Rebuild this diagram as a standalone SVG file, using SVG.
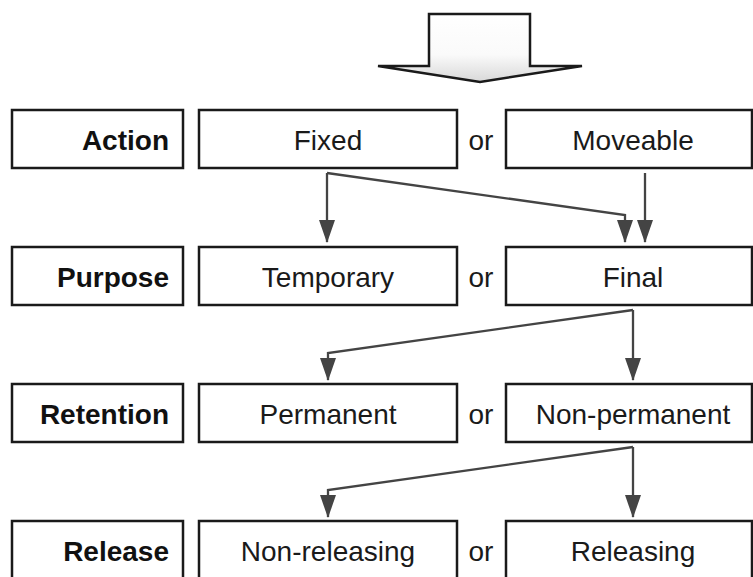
<svg xmlns="http://www.w3.org/2000/svg" width="753" height="577" viewBox="0 0 753 577">
<defs>
<style>
.box{fill:#fff;stroke:#1a1a1a;stroke-width:2.5}
.lbl{font-family:"Liberation Sans",Arial,sans-serif;font-size:28px;font-weight:bold;fill:#111;text-anchor:end}
.txt{font-family:"Liberation Sans",Arial,sans-serif;font-size:28px;fill:#1a1a1a;text-anchor:middle}
.or{font-family:"Liberation Sans",Arial,sans-serif;font-size:28px;fill:#1a1a1a;text-anchor:middle}
.con{fill:none;stroke:#444;stroke-width:2.3}
</style>
<marker id="ah" viewBox="0 0 23 16" refX="22" refY="8" markerWidth="23" markerHeight="16" markerUnits="userSpaceOnUse" orient="auto">
<path d="M0,0 L23,8 L0,16 Z" fill="#444"/>
</marker>
<linearGradient id="g" x1="0" y1="0" x2="0" y2="1">
<stop offset="0" stop-color="#fff"/>
<stop offset="0.6" stop-color="#fafafa"/>
<stop offset="1" stop-color="#d8d8d8"/>
</linearGradient>
</defs>
<rect width="753" height="577" fill="#fff"/>

<g id="input-arrow">
<path d="M429,14 L530,14 L530,66 L582,66 L480,82 L378,66 L429,66 Z" fill="url(#g)" stroke="#1a1a1a" stroke-width="2.5" stroke-linejoin="miter"/>
</g>

<g id="connectors">
<path class="con" d="M645,173 L645,242" marker-end="url(#ah)"/>
<path class="con" d="M327,173 L327,242" marker-end="url(#ah)"/>
<path class="con" d="M327,173 L625,215 L625,242" marker-end="url(#ah)"/>
<path class="con" d="M633,310 L328,353 L328,380" marker-end="url(#ah)"/>
<path class="con" d="M633,310 L633,380" marker-end="url(#ah)"/>
<path class="con" d="M633,447 L328,490 L328,517" marker-end="url(#ah)"/>
<path class="con" d="M633,447 L633,517" marker-end="url(#ah)"/>
</g>

<g id="label-action"><rect class="box" x="12" y="110" width="171" height="58"/><text class="lbl" x="169" y="150">Action</text></g>
<g id="fixed"><rect class="box" x="199" y="110" width="258" height="58"/><text class="txt" x="328" y="150">Fixed</text></g>
<text class="or" x="481" y="150">or</text>
<g id="moveable"><rect class="box" x="506" y="110" width="246" height="58"/><text class="txt" x="633" y="150">Moveable</text></g>

<g id="label-purpose"><rect class="box" x="12" y="247" width="171" height="58"/><text class="lbl" x="169" y="287">Purpose</text></g>
<g id="temporary"><rect class="box" x="199" y="247" width="258" height="58"/><text class="txt" x="328" y="287">Temporary</text></g>
<text class="or" x="481" y="287">or</text>
<g id="final"><rect class="box" x="506" y="247" width="246" height="58"/><text class="txt" x="633" y="287">Final</text></g>

<g id="label-retention"><rect class="box" x="12" y="384" width="171" height="58"/><text class="lbl" x="169" y="424">Retention</text></g>
<g id="permanent"><rect class="box" x="199" y="384" width="258" height="58"/><text class="txt" x="328" y="424">Permanent</text></g>
<text class="or" x="481" y="424">or</text>
<g id="non-permanent"><rect class="box" x="506" y="384" width="246" height="58"/><text class="txt" x="633" y="424">Non-permanent</text></g>

<g id="label-release"><rect class="box" x="12" y="521" width="171" height="58"/><text class="lbl" x="169" y="561">Release</text></g>
<g id="non-releasing"><rect class="box" x="199" y="521" width="258" height="58"/><text class="txt" x="328" y="561">Non-releasing</text></g>
<text class="or" x="481" y="561">or</text>
<g id="releasing"><rect class="box" x="506" y="521" width="246" height="58"/><text class="txt" x="633" y="561">Releasing</text></g>
</svg>
